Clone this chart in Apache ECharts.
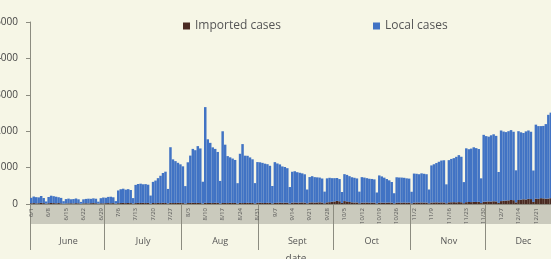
<!DOCTYPE html>
<html>
<head>
<meta charset="utf-8">
<script src="https://cdn.jsdelivr.net/npm/echarts@6/dist/echarts.min.js"></script>
<style>
  html, body { margin: 0; padding: 0; width: 551px; height: 259px; overflow: hidden; background: #f6f6e6; }
  #chart { position: absolute; left: -20px; top: 0; width: 600px; height: 259px; }
</style>
</head>
<body>
<div id="chart"></div>
<script>
// months shown on the lower axis and their lengths in days
const months = ['June', 'July', 'Aug', 'Sept', 'Oct', 'Nov', 'Dec'];
const monthDays = [30, 31, 31, 30, 31, 30, 31];
const yTicks = [0, 1000, 2000, 3000, 4000, 5000];

// daily imported cases, June 1 - Dec 31
const importedCases = [
  20, 25, 18, 22, 30, 24, 10,
  22, 28, 25, 20, 26, 18, 8,
  15, 18, 20, 16, 22, 19, 8,
  18, 20, 16, 22, 25, 20, 9,
  20, 18, 22, 25, 20, 24, 10,
  22, 26, 30, 24, 28, 25, 12,
  25, 30, 28, 32, 26, 30, 12,
  28, 24, 30, 26, 32, 28, 14,
  30, 26, 28, 32, 30, 25, 12,
  26, 30, 34, 28, 30, 26, 12,
  32, 28, 30, 26, 34, 30, 14,
  28, 30, 26, 32, 28, 30, 12,
  30, 26, 28, 34, 30, 28, 14,
  32, 36, 30, 28, 34, 30, 15,
  30, 34, 38, 32, 36, 34, 16,
  36, 40, 34, 38, 42, 36, 18,
  40, 44, 38, 42, 46, 40, 20,
  45, 50, 60, 70, 85, 75, 30,
  80, 70, 55, 45, 40, 42, 20,
  38, 36, 40, 34, 38, 36, 16,
  35, 38, 34, 36, 40, 35, 16,
  34, 38, 36, 40, 35, 38, 16,
  36, 40, 38, 42, 40, 38, 18,
  40, 42, 45, 40, 44, 42, 20,
  45, 48, 50, 46, 52, 48, 22,
  50, 55, 52, 58, 55, 60, 25,
  60, 65, 70, 68, 75, 72, 30,
  80, 90, 95, 100, 110, 105, 45,
  110, 120, 130, 125, 140, 135, 60,
  150, 140, 160, 155, 145, 150, 160,
  140, 150, 135, 145
];

// daily local cases, June 1 - Dec 31
const localCases = [
  150, 180, 170, 160, 190, 140, 60,
  170, 200, 190, 180, 160, 150, 70,
  120, 130, 110, 120, 130, 110, 50,
  110, 120, 130, 120, 130, 125, 55,
  140, 160, 150, 170, 180, 160, 70,
  350, 380, 390, 370, 380, 360, 150,
  500, 520, 530, 510, 520, 500, 220,
  580, 620, 680, 750, 820, 860, 400,
  1530, 1200, 1150, 1100, 1060, 1010, 480,
  1120, 1300, 1480, 1450, 1560, 1500, 600,
  2630, 1750, 1650, 1530, 1480, 1400, 620,
  1970, 1600, 1290, 1250, 1220, 1180, 560,
  1350, 1620, 1300, 1290, 1250, 1200, 560,
  1120, 1110, 1100, 1080, 1060, 1020, 480,
  1120, 1080, 1050, 1000, 980, 950, 450,
  850, 860, 840, 820, 800, 780, 380,
  700, 720, 700, 690, 680, 660, 320,
  660, 670, 650, 640, 630, 610, 300,
  740, 730, 710, 690, 680, 660, 320,
  700, 690, 670, 660, 650, 640, 300,
  750, 720, 690, 650, 610, 570, 280,
  700, 690, 690, 680, 670, 660, 320,
  800, 790, 780, 800, 790, 780, 380,
  1020, 1050, 1080, 1120, 1150, 1160, 520,
  1160, 1190, 1210, 1250, 1290, 1250, 580,
  1480, 1450, 1470, 1500, 1480, 1450, 680,
  1840, 1800, 1780, 1820, 1840, 1800, 850,
  1940, 1900, 1880, 1900, 1920, 1880, 880,
  1890, 1850, 1820, 1870, 1880, 1850, 860,
  2030, 2000, 1980, 1990, 2050, 2300, 2350,
  2100, 2050, 2000, 1950
];

// day labels like 6/1 and month bookkeeping
const days = [];
const monthStart = {};
const monthMid = {};
monthDays.forEach(function (n, m) {
    monthStart[days.length] = true;
    monthMid[days.length + Math.floor(n / 2)] = months[m];
    for (let d = 1; d <= n; d++) days.push((m + 6) + '/' + d);
});

const gridLeft = 50, gridRight = 18, gridTop = 22, gridBottom = 55;
const chartDom = document.getElementById('chart');
const chart = echarts.init(chartDom);

const option = {
    backgroundColor: '#f6f6e6',
    animation: false,
    textStyle: { fontFamily: 'Open Sans, Liberation Sans, sans-serif' },
    legend: {
        left: 198,
        top: 15,
        icon: 'rect',
        itemWidth: 7,
        itemHeight: 7,
        itemGap: 92,
        textStyle: { fontSize: 12, color: '#555' },
        data: ['Imported cases', 'Local cases']
    },
    grid: {
        left: gridLeft, right: gridRight, top: gridTop, bottom: gridBottom,
        containLabel: false,
        outerBoundsMode: 'none'
    },
    graphic: [{
        type: 'rect',
        z: -1,
        shape: { x: gridLeft, y: 259 - gridBottom + 1, width: 600 - gridLeft - gridRight, height: 19 },
        style: { fill: '#cacabd' }
    }],
    xAxis: [
        {
            type: 'category',
            data: days,
            z: 5,
            axisLine: { lineStyle: { color: '#8c8c80' } },
            axisTick: { show: false },
            axisLabel: {
                interval: function (i) { return i % 7 === 0; },
                rotate: 90,
                fontSize: 6,
                margin: 4,
                color: '#555'
            }
        },
        {
            type: 'category',
            data: days,
            position: 'bottom',
            z: 5,
            axisLine: { show: false },
            axisTick: {
                show: true,
                interval: function (i) { return !!monthStart[i]; },
                length: 46,
                lineStyle: { color: '#8c8c80' }
            },
            axisLabel: {
                interval: function (i) { return !!monthMid[i]; },
                formatter: function (v, i) { return monthMid[i] || ''; },
                margin: 33,
                fontSize: 9,
                color: '#555'
            },
            name: 'date',
            nameLocation: 'middle',
            nameGap: 50,
            nameTextStyle: { fontSize: 10, color: '#555' }
        }
    ],
    yAxis: {
        type: 'value',
        min: yTicks[0],
        max: yTicks[yTicks.length - 1],
        interval: 1000,
        axisLine: { show: true, lineStyle: { color: '#8c8c80' } },
        axisTick: { show: true, length: 4, lineStyle: { color: '#8c8c80' } },
        splitLine: { show: false },
        axisLabel: {
            fontSize: 10, color: '#444', margin: 12,
            formatter: function (v) { return String(v); }
        }
    },
    series: [
        {
            name: 'Imported cases',
            type: 'bar',
            stack: 'cases',
            barCategoryGap: 0,
            itemStyle: { color: '#4a2a22' },
            data: importedCases
        },
        {
            name: 'Local cases',
            type: 'bar',
            stack: 'cases',
            barCategoryGap: 0,
            itemStyle: { color: '#4173c4' },
            data: localCases
        }
    ]
};

chart.setOption(option);

window.addEventListener('resize', function () {
    chart.resize();
});
</script>
</body>
</html>
